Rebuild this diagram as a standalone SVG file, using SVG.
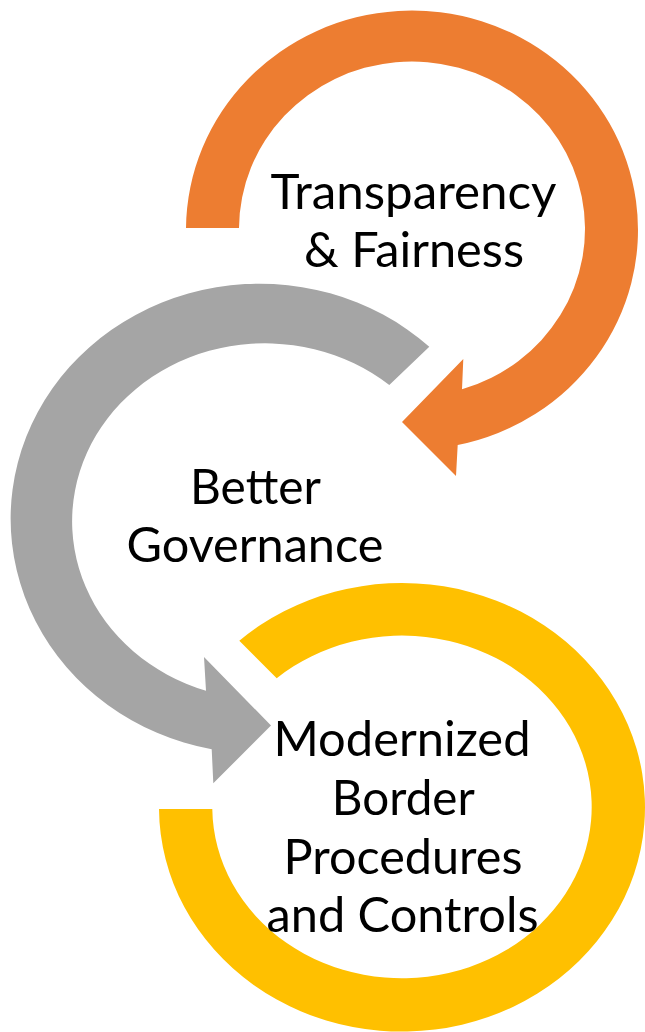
<svg xmlns="http://www.w3.org/2000/svg" width="645" height="1032" viewBox="0 0 645 1032">
<style>
.lbl{font-family:Lato,"Open Sans","Liberation Sans",sans-serif;font-size:49px;fill:#000;text-anchor:middle}
.orange{fill:#ED7D31}
.gray{fill:#A5A5A5}
.yellow{fill:#FFC000}
</style>
<rect width="645" height="1032" fill="#fff"/>
<g id="node-better-governance">
<path class="gray" d="M429.3 346.7 A249 235 0 1 0 211.7 749.3 L213.3 783.3 L271 725.5 L204 657 L206 690.7 A193 178 0 1 1 389.3 385 Z"/>
<text class="lbl" x="255.5" y="503.5" textLength="131" lengthAdjust="spacingAndGlyphs">Better</text>
<text class="lbl" x="255" y="561.5" textLength="257" lengthAdjust="spacingAndGlyphs">Governance</text>
</g>
<g id="node-transparency-fairness">
<path class="orange" d="M186 228 A226 219.5 0 1 1 457.7 445 L456 476 L402 422 L463.3 359 L462 389.3 A173 167.5 0 1 0 239 228 Z"/>
<text class="lbl" x="413.5" y="208.5" textLength="286" lengthAdjust="spacingAndGlyphs">Transparency</text>
<text class="lbl" x="414" y="266.5" textLength="220" lengthAdjust="spacingAndGlyphs">&amp; Fairness</text>
</g>
<g id="node-modernized-border">
<path class="yellow" d="M159 809 A243 224.3 0 1 0 239.3 640.7 L276.7 678.3 A189.7 171.3 0 1 1 212.3 809 Z"/>
<text class="lbl" x="402" y="755.5" textLength="257" lengthAdjust="spacingAndGlyphs">Modernized</text>
<text class="lbl" x="403.3" y="815" textLength="143" lengthAdjust="spacingAndGlyphs">Border</text>
<text class="lbl" x="403" y="873.5" textLength="239" lengthAdjust="spacingAndGlyphs">Procedures</text>
<text class="lbl" x="402.5" y="931.5" textLength="272" lengthAdjust="spacingAndGlyphs">and Controls</text>
</g>
<g id="connectors"/>
</svg>
